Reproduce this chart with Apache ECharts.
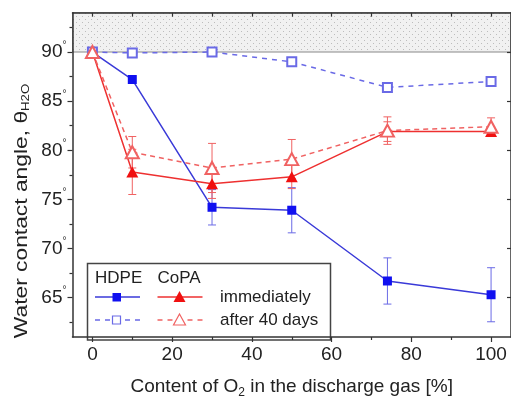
<!DOCTYPE html>
<html>
<head>
<meta charset="utf-8">
<script src="https://cdn.jsdelivr.net/npm/echarts@6/dist/echarts.min.js"></script>
<style>
  html, body { margin: 0; padding: 0; background: #fff; }
  #chart { width: 511px; height: 404px; }
</style>
</head>
<body>
<div id="chart"></div>
<script>
// O2 content in the discharge gas [%]
const o2 = [0, 10, 30, 50, 74, 100]

// water contact angle [deg] with error bars
const hdpeNow = [90, 87.2, 74.2, 73.9, 66.7, 65.3]
const hdpeNowErr = [0, 0, 1.8, 2.3, 2.35, 2.75]
const hdpeLater = [90, 89.9, 90.0, 89.0, 86.4, 87.0]
const copaNow = [90, 77.8, 76.6, 77.3, 81.9, 81.9]
const copaNowErr = [0, 2.3, 1.5, 1.2, 1.0, 0.5]
const copaLater = [90, 79.8, 78.2, 79.1, 82.0, 82.4]
const copaLaterErr = [0, 1.6, 2.5, 2.0, 1.4, 0.9]

const xLabels = [0, 20, 40, 60, 80, 100]
const xMinor = [10, 30, 50, 70, 90]
const xTop = [0, 10, 20, 30, 40, 50, 60, 70, 80, 90, 100]
const yLabels = [65, 70, 75, 80, 85, 90]
const yMinor = [62.5, 67.5, 72.5, 77.5, 82.5, 87.5, 92.5]

const FONT = 'Liberation Sans, Arial, sans-serif'
const BLUE = '#1010f0'
const BLUE_LINE = '#3a3ad8'
const BLUE_LIGHT = '#6a6ae6'
const RED = '#f01010'
const RED_LINE = '#ee3030'
const RED_LIGHT = '#f06262'

// dotted fill for the region above 90 deg
const pat = document.createElement('canvas')
pat.width = 6
pat.height = 6
const pctx = pat.getContext('2d')
pctx.fillStyle = '#f1f1f1'
pctx.fillRect(0, 0, 6, 6)
pctx.fillStyle = '#bdbdbd'
pctx.fillRect(1, 1, 1, 1)
pctx.fillRect(4, 4, 1, 1)

const pairs = (ys) => o2.map((x, i) => [x, ys[i]])
const errData = (ys, es) => o2.map((x, i) => [x, ys[i], es[i]])

function errorBars(name, ys, es, color) {
  return {
    name,
    type: 'custom',
    data: errData(ys, es),
    z: 1,
    silent: true,
    renderItem: (params, api) => {
      const e = api.value(2)
      if (!e) return null
      const x = api.value(0), y = api.value(1)
      const top = api.coord([x, y + e])
      const bot = api.coord([x, y - e])
      const w = 4
      const st = { stroke: color, lineWidth: 1 }
      return {
        type: 'group',
        children: [
          { type: 'line', shape: { x1: top[0], y1: top[1], x2: bot[0], y2: bot[1] }, style: st },
          { type: 'line', shape: { x1: top[0] - w, y1: top[1], x2: top[0] + w, y2: top[1] }, style: st },
          { type: 'line', shape: { x1: bot[0] - w, y1: bot[1], x2: bot[0] + w, y2: bot[1] }, style: st }
        ]
      }
    }
  }
}

const chart = echarts.init(document.getElementById('chart'))

const axisLine = { show: true, onZero: false, lineStyle: { color: '#333', width: 1.5 } }
const noLine = { show: false, onZero: false }
const tickStyle = { color: '#333', width: 1.2 }

const option = {
  animation: false,
  grid: { left: 72.5, right: -5, top: 12.7, bottom: 53.5 },
  xAxis: [
    {
      type: 'value', position: 'bottom', min: -5, max: 105,
      axisLine,
      axisTick: { customValues: xLabels, length: 5, inside: false, lineStyle: tickStyle },
      axisLabel: { customValues: xLabels, margin: 8, fontSize: 19, fontFamily: FONT, color: '#222' },
      splitLine: { show: false },
      name: 'Content of O{s|2} in the discharge gas [%]',
      nameLocation: 'middle',
      nameGap: 38,
      nameTextStyle: {
        fontSize: 19, fontFamily: FONT, color: '#222', lineHeight: 24,
        rich: { s: { fontSize: 12, fontFamily: FONT, color: '#222', lineHeight: 10, verticalAlign: 'bottom' } }
      }
    },
    {
      type: 'value', position: 'bottom', min: -5, max: 105,
      axisLine: noLine,
      axisTick: { customValues: xMinor, length: 3, lineStyle: tickStyle },
      axisLabel: { show: false },
      splitLine: { show: false }
    },
    {
      type: 'value', position: 'top', min: -5, max: 105, z: 10,
      axisLine,
      axisTick: { customValues: xTop, length: 4, inside: true, lineStyle: tickStyle },
      axisLabel: { show: false },
      splitLine: { show: false }
    }
  ],
  yAxis: [
    {
      type: 'value', position: 'left', min: 61, max: 94, z: 10,
      axisLine,
      axisTick: { customValues: yLabels, length: 5, lineStyle: tickStyle },
      axisLabel: {
        customValues: yLabels, margin: 6,
        formatter: (v) => '{n|' + v + '}{d|°}',
        rich: {
          n: { fontSize: 19, fontFamily: FONT, color: '#222', lineHeight: 24 },
          d: { fontSize: 10, fontFamily: FONT, color: '#333', lineHeight: 12, verticalAlign: 'top' }
        }
      },
      splitLine: { show: false }
    },
    {
      type: 'value', position: 'left', min: 61, max: 94,
      axisLine: noLine,
      axisTick: { customValues: yMinor, length: 3, lineStyle: tickStyle },
      axisLabel: { show: false },
      splitLine: { show: false }
    },
    {
      type: 'value', position: 'right', min: 61, max: 94, z: 10,
      axisLine,
      axisTick: { customValues: yLabels, length: 4, inside: true, lineStyle: tickStyle },
      axisLabel: { show: false },
      splitLine: { show: false }
    }
  ],
  graphic: [
    {
      type: 'text', x: 22, y: 211, rotation: Math.PI / 2, scaleX: 1.2, z: 100,
      style: {
        text: 'Water contact angle, θ{s|H2O}',
        font: '19px ' + FONT, fill: '#222',
        textAlign: 'center', textVerticalAlign: 'middle',
        rich: { s: { fontSize: 11, fontFamily: FONT, fill: '#222', lineHeight: 10, verticalAlign: 'bottom' } }
      }
    },
    {
      type: 'group', z: 100,
      children: [
        { type: 'rect', shape: { x: 87.5, y: 263.5, width: 243, height: 76.5 }, style: { fill: '#fff', stroke: '#444', lineWidth: 1.5 } },
        { type: 'text', style: { x: 95, y: 278, text: 'HDPE', font: '17px ' + FONT, fill: '#222', textVerticalAlign: 'middle' } },
        { type: 'text', style: { x: 157.5, y: 278, text: 'CoPA', font: '17px ' + FONT, fill: '#222', textVerticalAlign: 'middle' } },
        { type: 'line', shape: { x1: 95, y1: 297, x2: 140, y2: 297 }, style: { stroke: BLUE_LINE, lineWidth: 1.5 } },
        { type: 'rect', shape: { x: 112.5, y: 293, width: 8.5, height: 8.5 }, style: { fill: BLUE } },
        { type: 'line', shape: { x1: 157.5, y1: 297, x2: 202.5, y2: 297 }, style: { stroke: RED_LINE, lineWidth: 1.5 } },
        { type: 'polygon', shape: { points: [[179.5, 291], [185.5, 302], [173.5, 302]] }, style: { fill: RED } },
        { type: 'line', shape: { x1: 95, y1: 320, x2: 140, y2: 320 }, style: { stroke: BLUE_LIGHT, lineWidth: 1.5, lineDash: [5, 5] } },
        { type: 'rect', shape: { x: 112.5, y: 316, width: 8, height: 8 }, style: { fill: '#fff', stroke: BLUE_LIGHT, lineWidth: 1.2 } },
        { type: 'line', shape: { x1: 157.5, y1: 320, x2: 202.5, y2: 320 }, style: { stroke: RED_LIGHT, lineWidth: 1.5, lineDash: [5, 5] } },
        { type: 'polygon', shape: { points: [[179.5, 314], [185.5, 325], [173.5, 325]] }, style: { fill: '#fff', stroke: RED_LIGHT, lineWidth: 1.2 } },
        { type: 'text', style: { x: 220, y: 297, text: 'immediately', font: '17px ' + FONT, fill: '#222', textVerticalAlign: 'middle' } },
        { type: 'text', style: { x: 220, y: 320, text: 'after 40 days', font: '17px ' + FONT, fill: '#222', textVerticalAlign: 'middle' } }
      ]
    }
  ],
  series: [
    {
      name: 'hatched', type: 'line', data: [], silent: true, z: 0,
      markArea: {
        silent: true,
        itemStyle: { color: { image: pat, repeat: 'repeat' }, borderColor: '#888', borderWidth: 1 },
        data: [[{ coord: [-5, 90] }, { coord: [105, 94] }]]
      }
    },
    errorBars('HDPE now err', hdpeNow, hdpeNowErr, BLUE_LIGHT),
    errorBars('CoPA now err', copaNow, copaNowErr, RED_LIGHT),
    errorBars('CoPA later err', copaLater, copaLaterErr, RED_LIGHT),
    {
      name: 'HDPE immediately', type: 'line', data: pairs(hdpeNow), z: 3,
      symbol: 'rect', symbolSize: 9,
      lineStyle: { color: BLUE_LINE, width: 1.5 },
      itemStyle: { color: BLUE }
    },
    {
      name: 'HDPE after 40 days', type: 'line', data: pairs(hdpeLater), z: 3,
      symbol: 'emptyRect', symbolSize: 9,
      lineStyle: { color: BLUE_LIGHT, width: 1.5, type: [5, 5] },
      itemStyle: { color: BLUE_LIGHT, borderWidth: 1.3 }
    },
    {
      name: 'CoPA immediately', type: 'line', data: pairs(copaNow), z: 4,
      symbol: 'triangle', symbolSize: [12, 11],
      lineStyle: { color: RED_LINE, width: 1.5 },
      itemStyle: { color: RED }
    },
    {
      name: 'CoPA after 40 days', type: 'line', data: pairs(copaLater), z: 5,
      symbol: 'emptyTriangle', symbolSize: [13, 12],
      lineStyle: { color: RED_LIGHT, width: 1.5, type: [5, 4] },
      itemStyle: { color: RED_LIGHT, borderWidth: 1.3 }
    }
  ]
}

chart.setOption(option)
</script>
</body>
</html>
